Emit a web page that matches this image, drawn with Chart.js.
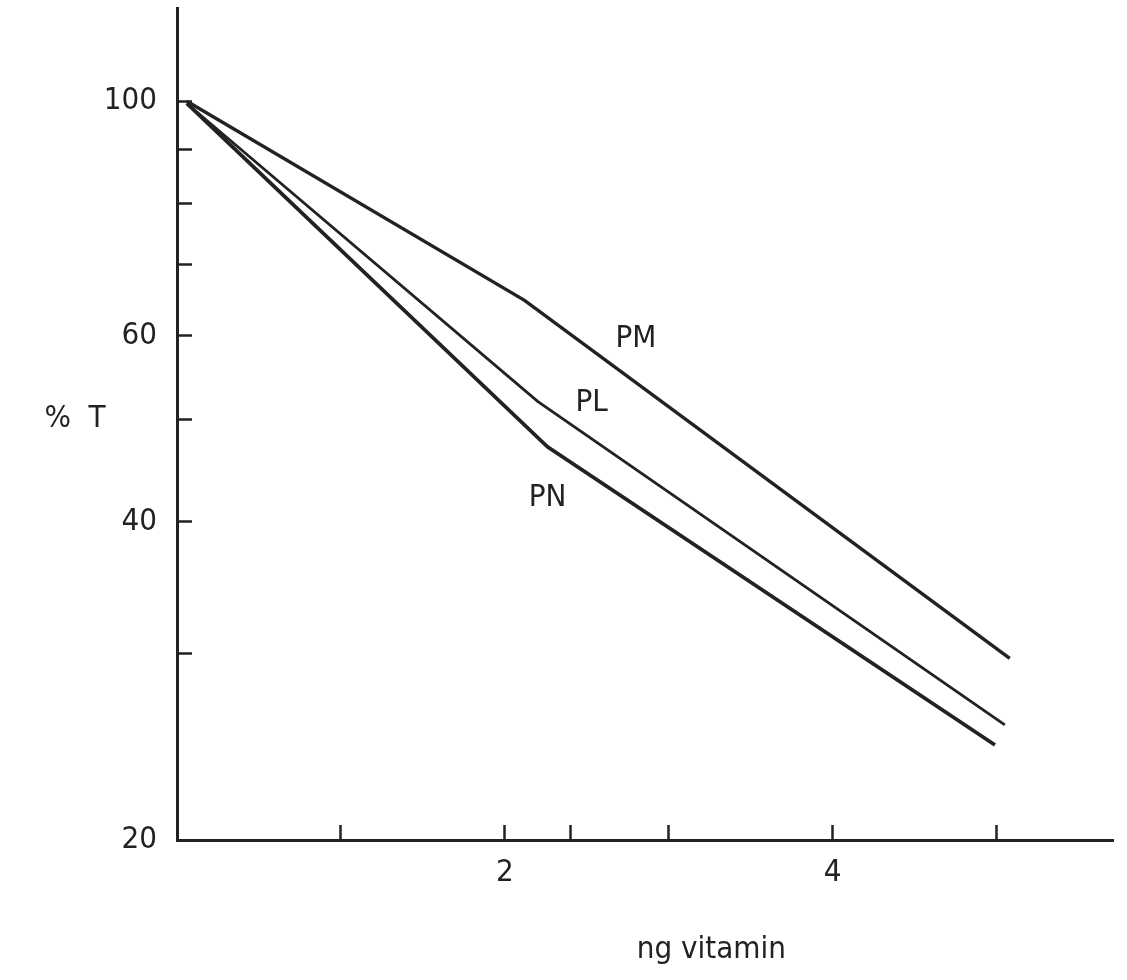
<!DOCTYPE html>
<html>
<head>
<meta charset="utf-8">
<script src="https://cdn.jsdelivr.net/npm/chart.js@4"></script>
<style>
  html, body { margin: 0; padding: 0; background: #fff; }
  #wrap { width: 1127px; height: 980px; }
</style>
</head>
<body>
<div id="wrap"><canvas id="myChart"></canvas></div>
<script>
// values (x = ng vitamin, y = % T on log paper)
const pmX = [0.06, 2.12, 5.08];
const pmY = [100, 64.8, 29.7];
const plX = [0.06, 2.2, 5.05];
const plY = [99.5, 52.0, 25.7];
const pnX = [0.06, 2.26, 4.99];
const pnY = [99.5, 47.1, 24.6];
const seriesNames = ['PM', 'PL', 'PN'];

const xTicks = [1, 2, 2.4, 3, 4, 5];
const xTickLabels = {2: '2', 4: '4'};
const yTicks = [20, 30, 40, 50, 60, 70, 80, 90, 100];
const yTickLabels = {20: '20', 40: '40', 60: '60', 100: '100'};

// where the curve names sit (data units)
const nameAt = [[2.80, 59.6], [2.53, 51.8], [2.26, 42.1]];

const ink = '#222222';
const fam = "'Liberation Sans Narrow', 'DejaVu Sans Condensed', sans-serif";

const pts = (xs, ys) => xs.map((x, i) => ({x: x, y: ys[i]}));

const texts = {
  id: 'texts',
  afterDraw(chart) {
    const {ctx, scales: {x, y}} = chart;
    ctx.save();
    ctx.fillStyle = ink;
    ctx.font = '31px ' + fam;
    ctx.textAlign = 'center';
    ctx.textBaseline = 'middle';
    seriesNames.forEach((n, i) => {
      ctx.fillText(n, x.getPixelForValue(nameAt[i][0]), y.getPixelForValue(nameAt[i][1]));
    });
    ctx.fillText('%  T', 75, y.getPixelForValue(50));
    ctx.fillText('ng vitamin', x.getPixelForValue(3.26), 950);
    ctx.restore();
  }
};

const ctx = document.getElementById('myChart');

new Chart(ctx, {
  type: 'line',
  data: {
    datasets: [
      {label: 'PM', data: pts(pmX, pmY), borderWidth: 3.4},
      {label: 'PL', data: pts(plX, plY), borderWidth: 2.8},
      {label: 'PN', data: pts(pnX, pnY), borderWidth: 3.8}
    ].map(d => Object.assign(d, {borderColor: ink, pointRadius: 0, tension: 0, fill: false}))
  },
  options: {
    responsive: true,
    maintainAspectRatio: false,
    animation: false,
    layout: {padding: {top: 8, right: 14, left: 0, bottom: 0}},
    plugins: {
      legend: {display: false},
      tooltip: {enabled: false}
    },
    scales: {
      x: {
        type: 'linear',
        min: 0,
        max: 5.71,
        border: {color: ink, width: 3},
        grid: {drawOnChartArea: false, tickLength: -15, tickWidth: 2.5, tickColor: ink},
        ticks: {
          padding: 29, color: ink, autoSkip: false, maxRotation: 0,
          font: {family: fam, size: 31},
          callback: v => xTickLabels[v] ?? ''
        },
        afterBuildTicks: s => { s.ticks = xTicks.map(v => ({value: v})); },
        afterFit: s => { s.height = 140; s.paddingLeft = 0; s.paddingRight = 0; }
      },
      y: {
        type: 'logarithmic',
        min: 20,
        max: 122.5,
        border: {color: ink, width: 3},
        grid: {drawOnChartArea: false, tickLength: -15, tickWidth: 2.5, tickColor: ink},
        ticks: {
          padding: 35, color: ink, autoSkip: false,
          font: {family: fam, size: 31},
          callback: v => yTickLabels[v] ?? ''
        },
        afterBuildTicks: s => { s.ticks = yTicks.map(v => ({value: v})); },
        afterFit: s => { s.width = 177; s.paddingTop = 0; s.paddingBottom = 0; }
      }
    }
  },
  plugins: [texts]
});
</script>
</body>
</html>
